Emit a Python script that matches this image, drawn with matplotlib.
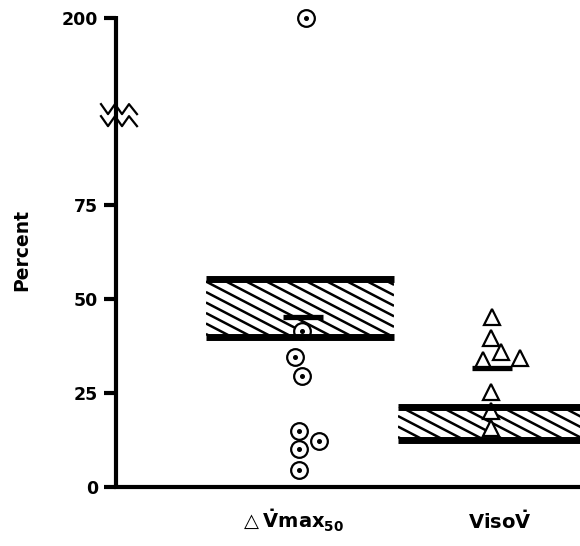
import matplotlib
matplotlib.use("Agg")
import matplotlib.pyplot as plt
import numpy as np
from matplotlib.patches import Rectangle

# ---- data ----
groups = ["max50", "iso"]
group_x = [1.0, 2.0]
# delta Vmax50 individual values (percent); 200 is plotted above axis break
vmax_values = [41.5, 34.6, 29.5, 14.9, 12.2, 10.1, 4.5, 200]
vmax_jitter = [0.01, -0.026, 0.01, -0.005, 0.10, -0.005, -0.005, 0.03]
viso_values = [45.2, 39.6, 35.9, 33.8, 34.3, 25.3, 20.3, 15.7]
viso_jitter = [0.0, -0.005, 0.047, -0.047, 0.146, -0.005, -0.005, -0.005]
means = [45.2, 31.6]
mean_offsets = [0.015, 0.0]
normal_low = [39.9, 12.5]
normal_high = [55.3, 21.4]
ytick_vals = [0, 25, 50, 75, 200]
ytick_labels = ["0", "25", "50", "75", "200"]

BREAK_AT = 98.9      # where the axis break is drawn
HIGH_POS = 124.7     # plotting position of the value 200


def ypos(v):
    return HIGH_POS if v >= 150 else v


fig = plt.figure(figsize=(5.80, 5.46), dpi=100)
h_px = 126 * 3.76
ax = fig.add_axes([116 / 580, 59 / 546, 1 - 116 / 580, h_px / 546])
ax.set_xlim(1 - 184 / 192, 2 + 88 / 192)
ax.set_ylim(0, 126)

for s in ["top", "right"]:
    ax.spines[s].set_visible(False)
ax.spines["left"].set_linewidth(3.0)
ax.spines["bottom"].set_linewidth(3.0)
ax.spines["left"].set_bounds(0, HIGH_POS + 0.6)
ax.spines["left"].set_capstyle("butt")

ax.set_yticks([ypos(v) for v in ytick_vals])
ax.set_yticklabels(ytick_labels)
ax.tick_params(axis="y", length=9, width=3.0, direction="out", pad=4,
               labelsize=12.5)
for lbl in ax.get_yticklabels():
    lbl.set_fontweight("heavy")
ax.set_xticks([])
ax.set_ylabel("Percent", fontsize=13.5, fontweight="heavy", labelpad=22)

# normal ranges: hatched boxes
half_w = 0.49
slope_px = 0.52
px_per_x = 192.0
px_per_y = 3.76
slope_data = -slope_px * px_per_x / px_per_y
spacing = 10.5 / px_per_y
for gx, lo, hi in zip(group_x, normal_low, normal_high):
    rect = Rectangle((gx - half_w, lo), 2 * half_w, hi - lo,
                     facecolor="white", edgecolor="none", zorder=2)
    ax.add_patch(rect)
    x0, x1 = gx - half_w, gx + half_w
    span = (x1 - x0) * abs(slope_data)
    offs = np.arange(lo - 2, hi + span + spacing, spacing)
    for o in offs:
        ln, = ax.plot([x0, x1], [o, o + slope_data * (x1 - x0)],
                      color="black", lw=1.8, zorder=3, solid_capstyle="butt")
        ln.set_clip_path(rect)
    ax.plot([x0, x1], [hi, hi], color="black", lw=5.0, zorder=6,
            solid_capstyle="butt")
    ax.plot([x0, x1], [lo, lo], color="black", lw=5.0, zorder=6,
            solid_capstyle="butt")

# means
for gx, m, off in zip(group_x, means, mean_offsets):
    ax.plot([gx + off - 0.105, gx + off + 0.105], [m, m], color="black",
            lw=3.8, zorder=6, solid_capstyle="butt")

# points
vx = [group_x[0] + j for j in vmax_jitter]
vy = [ypos(v) for v in vmax_values]
ax.plot(vx, vy, linestyle="none", marker="o", markersize=12,
        markerfacecolor="white", markeredgecolor="black",
        markeredgewidth=1.6, zorder=5, clip_on=False)
ax.plot(vx, vy, linestyle="none", marker="o", markersize=2.6,
        markerfacecolor="black", markeredgecolor="black", zorder=5,
        clip_on=False)

tx = [group_x[1] + j for j in viso_jitter]
ax.plot(tx, viso_values, linestyle="none", marker="^", markersize=12,
        markerfacecolor="white", markeredgecolor="black",
        markeredgewidth=1.6, zorder=5)

# axis break symbol
trans = ax.get_yaxis_transform()
bx = [(p - 116) / 464 for p in [101, 108, 115, 122, 129, 137]]
dy = [5, -5, 5, -5, 5, -5]
for yc in [BREAK_AT + 1.6, BREAK_AT - 1.6]:
    ax.plot(bx, [yc + d / px_per_y for d in dy], color="black", lw=1.6,
            transform=trans, clip_on=False, zorder=7)

# group labels
ax.text(group_x[0] - 0.04, -0.072,
        r"$\triangle\mathbf{\dot{V}max_{50}}$",
        transform=ax.get_xaxis_transform(), ha="center", va="center",
        fontsize=14)
ax.text(group_x[1] + 0.04, -0.072,
        r"$\mathbf{Viso\dot{V}}$",
        transform=ax.get_xaxis_transform(), ha="center", va="center",
        fontsize=14)

fig.savefig("out.png", dpi=100)
